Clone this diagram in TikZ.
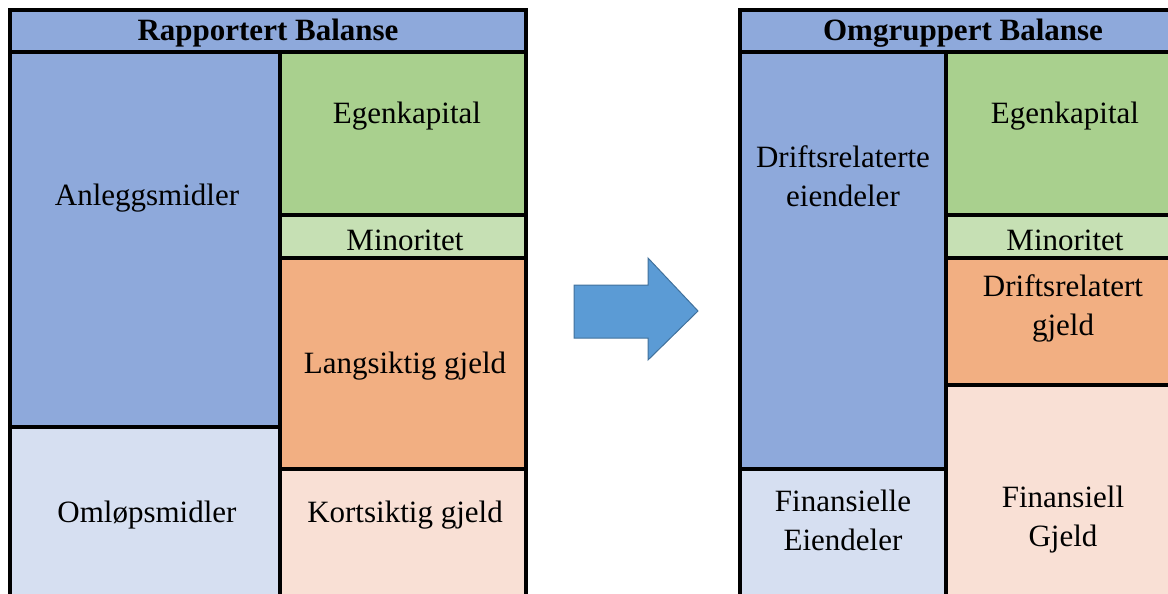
\documentclass[tikz,border=0pt]{standalone}
\usepackage{fontspec}
\setmainfont{Liberation Serif}
\definecolor{cblue}{HTML}{8EA9DB}
\definecolor{clblue}{HTML}{D6DFF1}
\definecolor{cgreen}{HTML}{A9D08E}
\definecolor{clgreen}{HTML}{C6E0B4}
\definecolor{corange}{HTML}{F2AF82}
\definecolor{cpink}{HTML}{F9E0D5}
\definecolor{carrow}{HTML}{5B9BD5}
\definecolor{carrowline}{HTML}{41719C}
\begin{document}
\begin{tikzpicture}[x=1pt,y=-1pt,
  cell/.style={draw=black,line width=4pt},
  lbl/.style={font=\fontsize{31}{39}\selectfont,align=center,inner sep=0pt},
  ttl/.style={font=\fontsize{31}{39}\selectfont\bfseries,inner sep=0pt}]
\useasboundingbox (0,0) rectangle (1168,594);
\begin{scope}
\clip (0,0) rectangle (1168,594);
% left panel
\filldraw[cell,fill=cblue] (10,10) rectangle (526,52);
\filldraw[cell,fill=cblue] (10,52) rectangle (280,427);
\filldraw[cell,fill=clblue] (10,427) rectangle (280,596);
\filldraw[cell,fill=cgreen] (280,52) rectangle (526,215);
\filldraw[cell,fill=clgreen] (280,215) rectangle (526,258);
\filldraw[cell,fill=corange] (280,258) rectangle (526,469);
\filldraw[cell,fill=cpink] (280,469) rectangle (526,596);
% right panel
\filldraw[cell,fill=cblue] (740,10) rectangle (1186,52);
\filldraw[cell,fill=cblue] (740,52) rectangle (946,469);
\filldraw[cell,fill=clblue] (740,469) rectangle (946,596);
\filldraw[cell,fill=cgreen] (946,52) rectangle (1186,215);
\filldraw[cell,fill=clgreen] (946,215) rectangle (1186,258);
\filldraw[cell,fill=corange] (946,258) rectangle (1186,385);
\filldraw[cell,fill=cpink] (946,385) rectangle (1186,596);
\end{scope}
% labels left
\node[ttl] (t1) at (268,33) {Rapportert Balanse};
\node[lbl] (a1) at (147,198) {Anleggsmidler};
\node[lbl] (o1) at (147,515) {Omløpsmidler};
\node[lbl] (e1) at (407,116) {Egenkapital};
\node[lbl] (m1) at (405,240) {Minoritet};
\node[lbl] (l1) at (405,366) {Langsiktig gjeld};
\node[lbl] (k1) at (405,515) {Kortsiktig gjeld};
% labels right
\node[ttl] (t2) at (963,33) {Omgruppert Balanse};
\node[lbl] (d2) at (843,176) {Driftsrelaterte\\eiendeler};
\node[lbl] (f2) at (843,520) {Finansielle\\Eiendeler};
\node[lbl] (e2) at (1065,116) {Egenkapital};
\node[lbl] (m2) at (1065,240) {Minoritet};
\node[lbl] (dg2) at (1063,308) {Driftsrelatert\\gjeld};
\node[lbl] (fg2) at (1063,520) {Finansiell\\Gjeld};
% arrow
\filldraw[fill=carrow,draw=carrowline,line width=1pt]
  (574,285) -- (648,285) -- (648,258) -- (698,311) -- (648,360) -- (648,338) -- (574,338) -- cycle;
\end{tikzpicture}
\end{document}
